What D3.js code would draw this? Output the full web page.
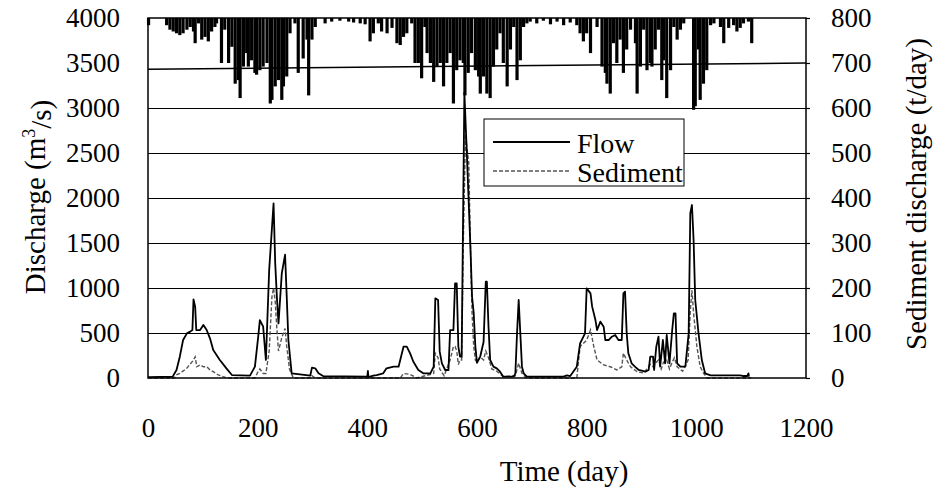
<!DOCTYPE html>
<html>
<head>
<meta charset="utf-8">
<script src="https://cdn.jsdelivr.net/npm/d3@7"></script>
<style>
  body { margin: 0; background: #fff; }
  svg text { font-family: "Liberation Serif", "Times New Roman", serif; fill: #000; }
</style>
</head>
<body>
<svg id="chart" width="938" height="491"></svg>
<script>
// axis ticks
const dayTicks = [0, 200, 400, 600, 800, 1000, 1200];
const flowTicks = [0, 500, 1000, 1500, 2000, 2500, 3000, 3500, 4000];
const sedTicks = [0, 100, 200, 300, 400, 500, 600, 700, 800];
const gridTicks = [500, 1000, 1500, 2000, 2500, 3000];

// [day, m3/s]
const flow = [
  [0,10],[45,15],[52,89],[58,237],[64,422],[71,496],[77,515],[81,533],[83,874],[86,793],[88,533],
  [95,533],[101,589],[107,533],[113,441],[119,311],[131,200],[143,107],[153,33],[186,26],[195,126],
  [201,459],[204,644],[210,570],[215,200],[221,1200],[229,1940],[232,1274],[235,904],[238,607],
  [244,1163],[250,1370],[253,904],[256,422],[262,52],[296,26],[299,115],[305,107],[311,52],[320,20],
  [400,15],[401,80],[402,10],[411,26],[417,33],[429,52],[435,107],[448,126],[457,126],[460,200],
  [466,348],[472,348],[478,274],[484,181],[493,89],[502,52],[515,52],[521,126],[524,885],[529,867],
  [532,293],[536,163],[542,89],[548,89],[551,533],[557,533],[560,1052],[563,1052],[566,348],[569,237],
  [572,237],[577,3170],[581,2570],[588,1460],[591,903],[594,720],[597,348],[600,167],[606,241],
  [612,400],[616,1070],[618,1070],[621,570],[624,200],[630,126],[636,107],[642,70],[648,15],[667,15],
  [670,52],[673,496],[676,867],[679,496],[682,126],[685,52],[691,15],[758,15],[764,30],[770,22],
  [782,126],[788,385],[797,496],[800,996],[807,940],[810,793],[816,644],[819,533],[825,626],[831,570],
  [834,422],[840,422],[846,459],[852,478],[858,422],[864,422],[867,940],[870,959],[873,496],[876,274],
  [882,163],[888,126],[895,89],[907,70],[913,89],[916,237],[921,237],[923,89],[927,348],[931,459],
  [934,126],[939,422],[943,163],[946,478],[951,163],[956,533],[959,718],[962,718],[965,163],[971,126],
  [980,126],[986,496],[989,1830],[992,1922],[995,1533],[998,867],[1004,496],[1010,200],[1016,52],
  [1026,30],[1080,30],[1086,22],[1093,22],[1095,52],[1096,15]
];

// [day, t/day]
const sediment = [
  [0,0],[48,0],[52,7],[58,10],[71,22],[83,40],[86,47],[89,25],[95,29],[101,25],[107,25],[113,18],
  [119,14],[128,7],[137,3],[145,0],[195,0],[201,15],[204,20],[210,10],[215,10],[221,60],[226,180],
  [229,200],[232,170],[235,110],[238,60],[244,90],[250,110],[253,70],[258,20],[265,0],[296,0],[299,5],
  [305,0],[460,0],[466,10],[478,8],[490,0],[521,10],[524,55],[529,45],[532,20],[540,5],[551,40],
  [557,70],[560,70],[563,60],[566,30],[569,40],[572,40],[575,300],[579,540],[585,477],[588,292],
  [591,144],[594,70],[597,40],[600,35],[606,47],[612,40],[616,60],[621,45],[627,20],[636,15],[648,3],
  [670,5],[676,33],[682,10],[690,0],[782,0],[788,70],[800,84],[807,107],[813,70],[819,40],[831,29],
  [843,25],[855,18],[864,25],[867,55],[873,40],[880,25],[892,14],[904,11],[916,30],[921,25],[927,35],
  [931,40],[936,20],[940,35],[946,40],[951,20],[956,35],[960,45],[965,25],[975,15],[985,40],[989,150],
  [992,195],[995,144],[1001,70],[1007,25],[1013,11],[1020,0],[1100,0]
];

// [day, mm]  bars hanging from the top
const rain = [
  [1,8],[34,8],[40,13],[46,15],[52,17],[58,19],[64,17],[71,13],[77,10],[83,15],[86,28],[92,6],[98,24],
  [104,21],[110,26],[116,15],[122,10],[125,6],[134,50],[140,13],[147,50],[153,32],[159,73],[165,69],
  [168,89],[174,54],[180,39],[183,54],[189,47],[195,61],[198,63],[204,58],[210,54],[217,50],[223,95],
  [226,91],[232,76],[238,69],[244,91],[247,76],[253,65],[259,17],[268,6],[274,61],[283,45],[290,24],
  [293,86],[299,24],[305,10],[323,6],[335,4],[350,3],[366,4],[375,5],[387,6],[396,7],[405,26],[411,17],
  [420,6],[426,15],[436,17],[445,11],[454,28],[460,30],[466,21],[472,17],[481,6],[487,50],[493,50],
  [499,67],[505,10],[509,39],[515,50],[521,71],[527,54],[533,50],[539,76],[545,50],[551,39],[557,95],
  [563,58],[569,47],[575,50],[578,86],[584,61],[590,39],[597,58],[603,65],[606,84],[612,65],[618,84],
  [624,89],[630,54],[636,35],[642,17],[648,50],[655,76],[661,35],[667,10],[673,69],[679,47],[685,10],
  [691,6],[697,4],[709,6],[721,3],[734,7],[746,4],[758,8],[770,5],[782,8],[788,17],[794,26],[800,17],
  [807,39],[819,10],[828,54],[834,61],[837,73],[843,84],[849,28],[855,50],[861,24],[867,61],[873,35],
  [880,13],[889,28],[892,84],[898,54],[904,13],[910,58],[916,50],[919,54],[925,35],[931,13],[937,69],
  [940,47],[946,89],[953,58],[959,10],[965,24],[971,13],[977,6],[995,102],[998,98],[1004,35],[1007,91],
  [1013,73],[1019,58],[1026,8],[1032,6],[1044,10],[1050,28],[1059,11],[1068,8],[1074,15],[1080,11],
  [1086,6],[1095,4],[1101,28]
];

// the slanted line near the top
const topLine = [[0, 3430], [1200, 3500]];

const margin = {top: 18, left: 148, right: 132, bottom: 113};
const W = 938, H = 491;
const width = W - margin.left - margin.right;
const height = H - margin.top - margin.bottom;

const svg = d3.select("#chart");
const g = svg.append("g").attr("transform", `translate(${margin.left},${margin.top})`);

const x = d3.scaleLinear().domain([0, 1200]).range([0, width]);
const yFlow = d3.scaleLinear().domain([0, 4000]).range([height, 0]);
const ySed = d3.scaleLinear().domain([0, 800]).range([height, 0]);
const yRain = d3.scaleLinear().domain([0, 400]).range([0, height]);

// gridlines
const grid = g.append("g")
  .call(d3.axisLeft(yFlow).tickValues(gridTicks).tickSize(-width).tickFormat(""));
grid.select(".domain").remove();
grid.selectAll("line").attr("stroke", "#000").attr("stroke-width", 1.2);

// rain bars
g.append("g").selectAll("rect")
  .data(rain)
  .enter()
  .append("rect")
  .attr("x", d => x(d[0]) - 1.6)
  .attr("y", 0)
  .attr("width", 3.2)
  .attr("height", d => yRain(d[1]))
  .attr("fill", "#000");

// slanted line
g.append("path")
  .datum(topLine)
  .attr("fill", "none")
  .attr("stroke", "#000")
  .attr("stroke-width", 1.5)
  .attr("d", d3.line().x(d => x(d[0])).y(d => yFlow(d[1])));

// sediment
g.append("path")
  .datum(sediment)
  .attr("fill", "none")
  .attr("stroke", "#555")
  .attr("stroke-width", 1.4)
  .attr("stroke-dasharray", "4,2")
  .attr("d", d3.line().x(d => x(d[0])).y(d => ySed(d[1])));

// flow
g.append("path")
  .datum(flow)
  .attr("fill", "none")
  .attr("stroke", "#000")
  .attr("stroke-width", 1.8)
  .attr("stroke-linejoin", "round")
  .attr("d", d3.line().x(d => x(d[0])).y(d => yFlow(d[1])));

// frame
g.append("rect")
  .attr("width", width).attr("height", height)
  .attr("fill", "none").attr("stroke", "#000").attr("stroke-width", 1.5);

const fmt = d3.format("d");

// left axis
const yAxisL = g.append("g")
  .call(d3.axisLeft(yFlow).tickValues(flowTicks).tickFormat(fmt).tickSize(0).tickPadding(28));
yAxisL.select(".domain").remove();
yAxisL.selectAll("text").attr("font-size", "27px").style("font-family", "Liberation Serif");

// right axis
const yAxisR = g.append("g")
  .attr("transform", `translate(${width},0)`)
  .call(d3.axisRight(ySed).tickValues(sedTicks).tickFormat(fmt).tickSize(4).tickPadding(21));
yAxisR.select(".domain").remove();
yAxisR.selectAll("line").attr("stroke", "#000").attr("stroke-width", 1.2);
yAxisR.selectAll("text").attr("font-size", "27px").style("font-family", "Liberation Serif");

// bottom axis
const xAxis = g.append("g")
  .attr("transform", `translate(0,${height})`)
  .call(d3.axisBottom(x).tickValues(dayTicks).tickFormat(fmt).tickSize(0).tickPadding(40));
xAxis.select(".domain").remove();
xAxis.selectAll("text").attr("font-size", "27px").style("font-family", "Liberation Serif");

// axis titles
svg.append("text")
  .attr("text-anchor", "middle")
  .attr("x", 564)
  .attr("y", 481)
  .attr("font-size", "29px")
  .text("Time (day)");

const lt = svg.append("text")
  .attr("text-anchor", "middle")
  .attr("transform", "translate(45,197) rotate(-90)")
  .attr("font-size", "29px");
lt.append("tspan").text("Discharge (m");
lt.append("tspan").attr("dy", "-0.55em").attr("font-size", "18px").text("3");
lt.append("tspan").attr("dy", "0.55em").text("/s)");

svg.append("text")
  .attr("text-anchor", "middle")
  .attr("transform", "translate(926,194) rotate(-90)")
  .attr("font-size", "29px")
  .text("Sediment discharge (t/day)");

// legend
const leg = svg.append("g").attr("transform", "translate(484,119)");
leg.append("rect")
  .attr("width", 200).attr("height", 67)
  .attr("fill", "#fff").attr("stroke", "#000").attr("stroke-width", 1);
const legItems = [
  {label: "Flow", dash: null, color: "#000", w: 1.8},
  {label: "Sediment", dash: "4,2", color: "#555", w: 1.4}
];
legItems.forEach((it, i) => {
  const yy = 23 + i * 29;
  leg.append("line")
    .attr("x1", 9).attr("x2", 86).attr("y1", yy).attr("y2", yy)
    .attr("stroke", it.color).attr("stroke-width", it.w)
    .attr("stroke-dasharray", it.dash);
  leg.append("text")
    .attr("x", 93).attr("y", yy + 11)
    .attr("font-size", "28px")
    .text(it.label);
});
</script>
</body>
</html>
